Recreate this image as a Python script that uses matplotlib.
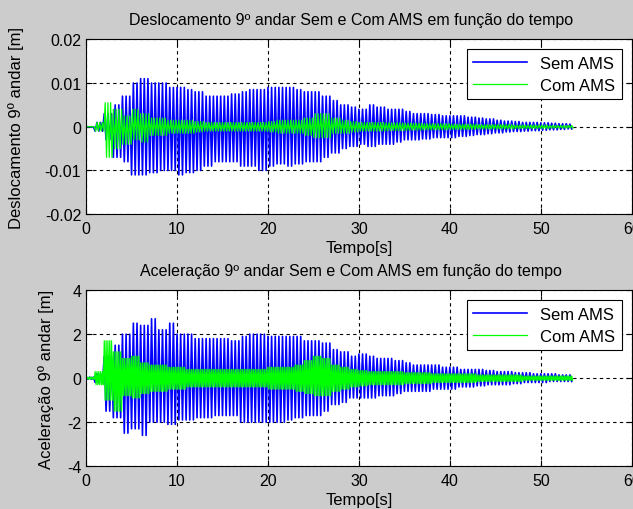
import matplotlib
matplotlib.use("AGG")
import matplotlib.pyplot as plt
import numpy as np

plt.rcParams['font.family'] = ['Liberation Sans', 'DejaVu Sans']

# peak envelopes read per second (t = 0..53 s)
# displacement [x 0.001 m]
desl_sem_up = [0.0, 1.0, 3.0, 5.0, 7.0, 10.0, 11.0, 10.0, 10.0, 9.0,
               9.0, 8.5, 8.0, 7.0, 7.0, 7.0, 7.5, 8.0, 8.5, 8.5,
               9.0, 9.0, 9.0, 8.5, 8.0, 8.0, 7.0, 6.0, 5.0, 4.5,
               4.0, 5.0, 4.5, 4.0, 4.0, 3.5, 3.0, 3.0, 2.8, 2.5,
               2.5, 2.5, 2.2, 2.0, 1.8, 1.5, 1.3, 1.2, 1.0, 1.0,
               0.9, 0.8, 0.7, 0.6]
desl_sem_dn = [0.0, 1.0, 3.0, 7.0, 8.0, 11.0, 11.0, 10.5, 10.0, 10.0,
               11.0, 10.5, 10.0, 9.0, 8.0, 8.0, 8.0, 9.0, 9.0, 10.0,
               9.0, 8.5, 9.0, 8.5, 8.0, 8.0, 7.0, 6.0, 5.0, 4.5,
               4.0, 4.5, 4.0, 4.0, 3.5, 3.0, 3.0, 2.8, 2.5, 2.5,
               2.5, 2.2, 2.0, 1.8, 1.6, 1.4, 1.2, 1.1, 1.0, 0.9,
               0.8, 0.7, 0.6, 0.5]
desl_com_up = [0.0, 1.0, 5.5, 4.0, 2.5, 4.0, 3.0, 2.0, 2.0, 1.5,
               1.5, 1.5, 1.2, 1.0, 1.0, 1.0, 1.0, 1.0, 1.0, 1.0,
               1.2, 1.5, 1.5, 1.5, 2.0, 3.0, 3.0, 2.0, 1.5, 1.2,
               1.0, 1.0, 1.0, 0.9, 0.9, 0.8, 0.8, 0.7, 0.7, 0.7,
               0.6, 0.6, 0.6, 0.5, 0.5, 0.5, 0.5, 0.4, 0.4, 0.4,
               0.4, 0.3, 0.3, 0.3]
desl_com_dn = [0.0, 1.0, 7.0, 5.0, 4.0, 3.0, 3.5, 2.0, 2.0, 1.5,
               1.5, 1.5, 1.2, 1.0, 1.0, 1.0, 1.0, 1.0, 1.0, 1.0,
               1.2, 1.5, 1.5, 1.5, 2.0, 2.5, 2.5, 1.5, 1.5, 1.2,
               1.0, 1.0, 1.0, 0.9, 0.9, 0.8, 0.8, 0.7, 0.7, 0.7,
               0.6, 0.6, 0.6, 0.5, 0.5, 0.5, 0.5, 0.4, 0.4, 0.4,
               0.4, 0.3, 0.3, 0.3]

# acceleration
acel_sem_up = [0.05, 0.2, 1.0, 1.5, 2.0, 2.5, 2.4, 2.7, 2.2, 2.5,
               2.0, 2.0, 1.8, 1.8, 1.8, 1.8, 1.7, 1.9, 2.0, 2.0,
               1.9, 1.9, 1.9, 1.9, 1.7, 1.7, 1.6, 1.3, 1.2, 1.0,
               1.1, 1.0, 0.9, 0.9, 0.8, 0.7, 0.6, 0.6, 0.6, 0.5,
               0.5, 0.4, 0.4, 0.4, 0.35, 0.3, 0.3, 0.25, 0.25, 0.2,
               0.2, 0.2, 0.15, 0.15]
acel_sem_dn = [0.05, 0.2, 1.5, 1.8, 2.5, 2.3, 2.6, 2.0, 2.0, 2.1,
               1.9, 1.9, 1.8, 1.8, 1.7, 1.7, 1.7, 2.0, 2.0, 2.0,
               2.0, 2.0, 1.9, 1.8, 1.7, 1.7, 1.5, 1.2, 1.1, 0.9,
               0.9, 0.9, 0.8, 0.8, 0.7, 0.6, 0.6, 0.6, 0.5, 0.5,
               0.5, 0.4, 0.4, 0.35, 0.3, 0.3, 0.3, 0.25, 0.2, 0.2,
               0.2, 0.15, 0.15, 0.15]
acel_com_up = [0.05, 0.3, 1.7, 1.2, 0.9, 1.0, 0.7, 0.6, 0.6, 0.5,
               0.5, 0.4, 0.4, 0.4, 0.4, 0.4, 0.4, 0.4, 0.4, 0.4,
               0.5, 0.5, 0.5, 0.6, 0.8, 1.0, 0.9, 0.6, 0.5, 0.4,
               0.35, 0.3, 0.3, 0.3, 0.3, 0.25, 0.25, 0.25, 0.2, 0.2,
               0.2, 0.2, 0.2, 0.15, 0.15, 0.15, 0.15, 0.15, 0.1, 0.1,
               0.1, 0.1, 0.1, 0.1]
acel_com_dn = [0.05, 0.3, 1.0, 1.5, 0.8, 0.9, 0.7, 0.6, 0.6, 0.5,
               0.5, 0.4, 0.4, 0.4, 0.4, 0.4, 0.4, 0.4, 0.4, 0.4,
               0.5, 0.5, 0.5, 0.6, 0.7, 0.8, 0.8, 0.6, 0.5, 0.4,
               0.35, 0.3, 0.3, 0.3, 0.3, 0.25, 0.25, 0.25, 0.2, 0.2,
               0.2, 0.2, 0.2, 0.15, 0.15, 0.15, 0.15, 0.15, 0.1, 0.1,
               0.1, 0.1, 0.1, 0.1]

t_fim = 53.6


def pico(up, dn, meio, escala=1.0):
    # alternate upper / lower peaks, one every half period
    t = np.arange(0, t_fim, meio)
    s = t.astype(int)
    up = np.array(up) * escala
    dn = np.array(dn) * escala
    k = np.arange(len(t))
    y = np.where(k % 2 == 0, up[s], -dn[s])
    return t, y


fig = plt.figure(figsize=(6.33, 5.1), dpi=100, facecolor='#cccccc')


def eixo(ax, ylim, yticks, ylabels, ylab, titulo, ypad):
    ax.set_xlim(0, 60)
    ax.set_ylim(*ylim)
    ax.set_xticks(range(0, 61, 10))
    ax.set_yticks(yticks)
    ax.set_yticklabels(ylabels)
    ax.grid(True, color='k', linestyle=(0, (3, 3)), linewidth=0.8)
    ax.tick_params(direction='in', top=True, right=True, labelsize=11.5, length=4)
    ax.tick_params(axis='x', pad=5)
    ax.set_xlabel('Tempo[s]', fontsize=12, labelpad=3)
    ax.set_ylabel(ylab, fontsize=12, labelpad=ypad)
    ax.set_title(titulo, fontsize=11.5, pad=11, x=0.485)
    for sp in ax.spines.values():
        sp.set_linewidth(0.8)
    leg = ax.legend(loc='upper right', fontsize=12, fancybox=False, framealpha=1,
                    edgecolor='k', handlelength=3.2, labelspacing=0.4,
                    borderaxespad=0.6)
    leg.get_frame().set_linewidth(0.8)


# displacement
ax1 = fig.add_axes([0.136, 0.578, 0.862, 0.343])
t, y = pico(desl_sem_up, desl_sem_dn, 0.2, 0.001)
ax1.plot(t, y, color=(0, 0, 1), linewidth=1.2, label='Sem AMS')
t, y = pico(desl_com_up, desl_com_dn, 0.15, 0.001)
ax1.plot(t, y, color=(0, 1, 0), linewidth=0.9, label='Com AMS')
eixo(ax1, (-0.02, 0.02), [-0.02, -0.01, 0, 0.01, 0.02],
     ['-0.02', '-0.01', '0', '0.01', '0.02'],
     'Deslocamento 9º andar [m]',
     'Deslocamento 9º andar Sem e Com AMS em função do tempo', 15)

# acceleration
ax2 = fig.add_axes([0.136, 0.084, 0.862, 0.345])
t, y = pico(acel_sem_up, acel_sem_dn, 0.2)
ax2.plot(t, y, color=(0, 0, 1), linewidth=1.2, label='Sem AMS')
t, y = pico(acel_com_up, acel_com_dn, 0.1)
ax2.plot(t, y, color=(0, 1, 0), linewidth=0.9, label='Com AMS')
eixo(ax2, (-4, 4), [-4, -2, 0, 2, 4], ['-4', '-2', '0', '2', '4'],
     'Aceleração 9º andar [m]',
     'Aceleração 9º andar Sem e Com AMS em função do tempo', 9)

plt.savefig('out.png', dpi=100, facecolor=fig.get_facecolor())
